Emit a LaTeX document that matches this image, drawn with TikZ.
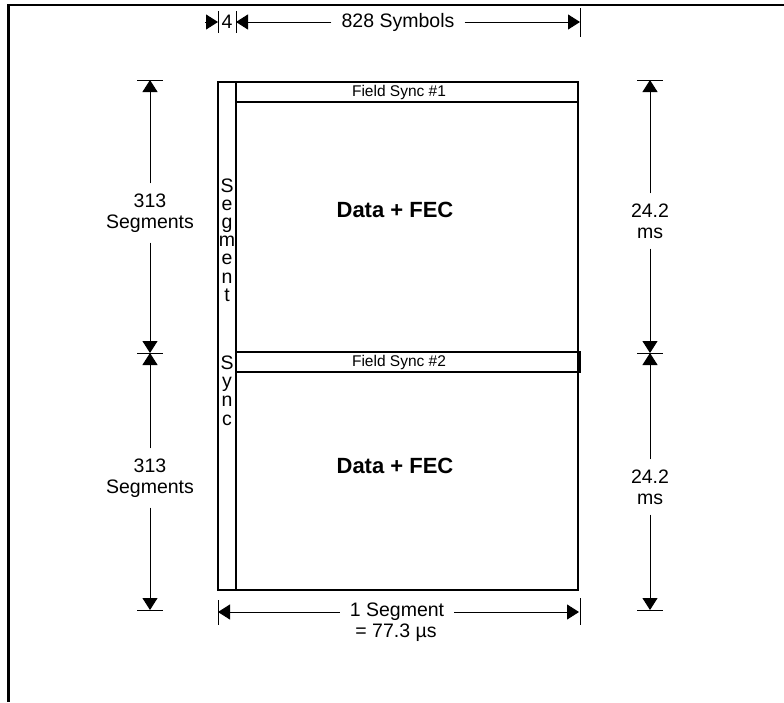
\documentclass[tikz,border=0pt]{standalone}
\usepackage{fontspec}
\setmainfont{Liberation Sans}
\usetikzlibrary{arrows.meta}
\begin{document}
\begin{tikzpicture}[x=1pt,y=-1pt,
  frame/.style={line width=2.2pt},
  dim/.style={line width=1pt},
  tip/.style={-{Triangle[length=12pt,width=15pt]}},
  tick/.style={line width=1pt},
  lbl/.style={font=\fontsize{19.5}{21}\selectfont, align=center, inner xsep=10pt, inner ysep=10pt},
  fs/.style={font=\fontsize{15.5}{18}\selectfont, inner sep=0pt},
  big/.style={font=\bfseries\fontsize{22}{26}\selectfont},
  ltr/.style={font=\fontsize{19.5}{22}\selectfont, anchor=base, inner sep=0pt}]
\useasboundingbox (0,0) rectangle (784,702);
% outer frame lines
\draw[line width=2.5pt] (784,5) -- (8.5,5) -- (8.5,702);
% main block
\draw[frame] (218,82) rectangle (578,590);
\draw[frame] (236,82) -- (236,590);
\draw[frame] (236,102) -- (578,102);
\draw[frame] (236,352) -- (580,352) (236,372) -- (580,372);
\draw[line width=3pt] (579,351) -- (579,373);
\node[fs] (fs1) at (399,92) {Field Sync \#1};
\node[fs] (fs2) at (399,362) {Field Sync \#2};
\node[big] (d1) at (395,210) {Data + FEC};
\node[big] (d2) at (395,466) {Data + FEC};
% segment sync letters
\foreach \ch [count=\i] in {S,e,g,m,e,n,t}
  \node[ltr] (ss\i) at (227,{192+(\i-1)*18.2}) {\ch};
\foreach \ch [count=\i] in {S,y,n,c}
  \node[ltr] (sy\i) at (227,{369+(\i-1)*18.7}) {\ch};
% top dimension
\coordinate (A0) at (205,22);
\coordinate (A1) at (218,22);
\coordinate (A2) at (236,22);
\coordinate (A3) at (580,22);
\draw[tick] (218,11) -- (218,33) (236,11) -- (236,33) (580,8) -- (580,37);
\draw[dim,tip] (A0) -- (A1);
\node[font=\fontsize{19.5}{22}\selectfont, inner sep=0pt] (four) at (227,22) {4};
\node[lbl, inner ysep=0pt] (T) at (398,22) {828 Symbols};
\draw[dim,tip] (T.west) -- (A2);
\draw[dim,tip] (T.east) -- (A3);
% left dimensions
\coordinate (LT) at (150,80);
\coordinate (LM) at (150,353);
\coordinate (LB) at (150,610);
\draw[tick] (137,80) -- (163,80) (137,353) -- (163,353) (137,610) -- (163,610);
\node[lbl] (L1) at (150,213) {313\\Segments};
\node[lbl] (L2) at (150,478) {313\\Segments};
\draw[dim,tip] (L1.north) -- (LT);
\draw[dim,tip] (L1.south) -- (LM);
\draw[dim,tip] (L2.north) -- (LM);
\draw[dim,tip] (L2.south) -- (LB);
% right dimensions
\coordinate (RT) at (650,80);
\coordinate (RM) at (650,353);
\coordinate (RB) at (650,610);
\draw[tick] (637,80) -- (663,80) (637,353) -- (663,353) (637,610) -- (663,610);
\node[lbl] (R1) at (650,221) {24.2\\ms};
\node[lbl] (R2) at (650,487) {24.2\\ms};
\draw[dim,tip] (R1.north) -- (RT);
\draw[dim,tip] (R1.south) -- (RM);
\draw[dim,tip] (R2.north) -- (RM);
\draw[dim,tip] (R2.south) -- (RB);
% bottom dimension
\coordinate (BL) at (218,612);
\coordinate (BR) at (579,612);
\draw[tick] (218,600) -- (218,625) (580,598) -- (580,625);
\node[lbl, inner ysep=0pt] (B) at (397,612) {1 Segment};
\draw[dim,tip] (B.west) -- (BL);
\draw[dim,tip] (B.east) -- (BR);
\node[font=\fontsize{19.5}{22}\selectfont, inner sep=0pt] (B2) at (396,633) {= 77.3 µs};
\end{tikzpicture}
\end{document}
